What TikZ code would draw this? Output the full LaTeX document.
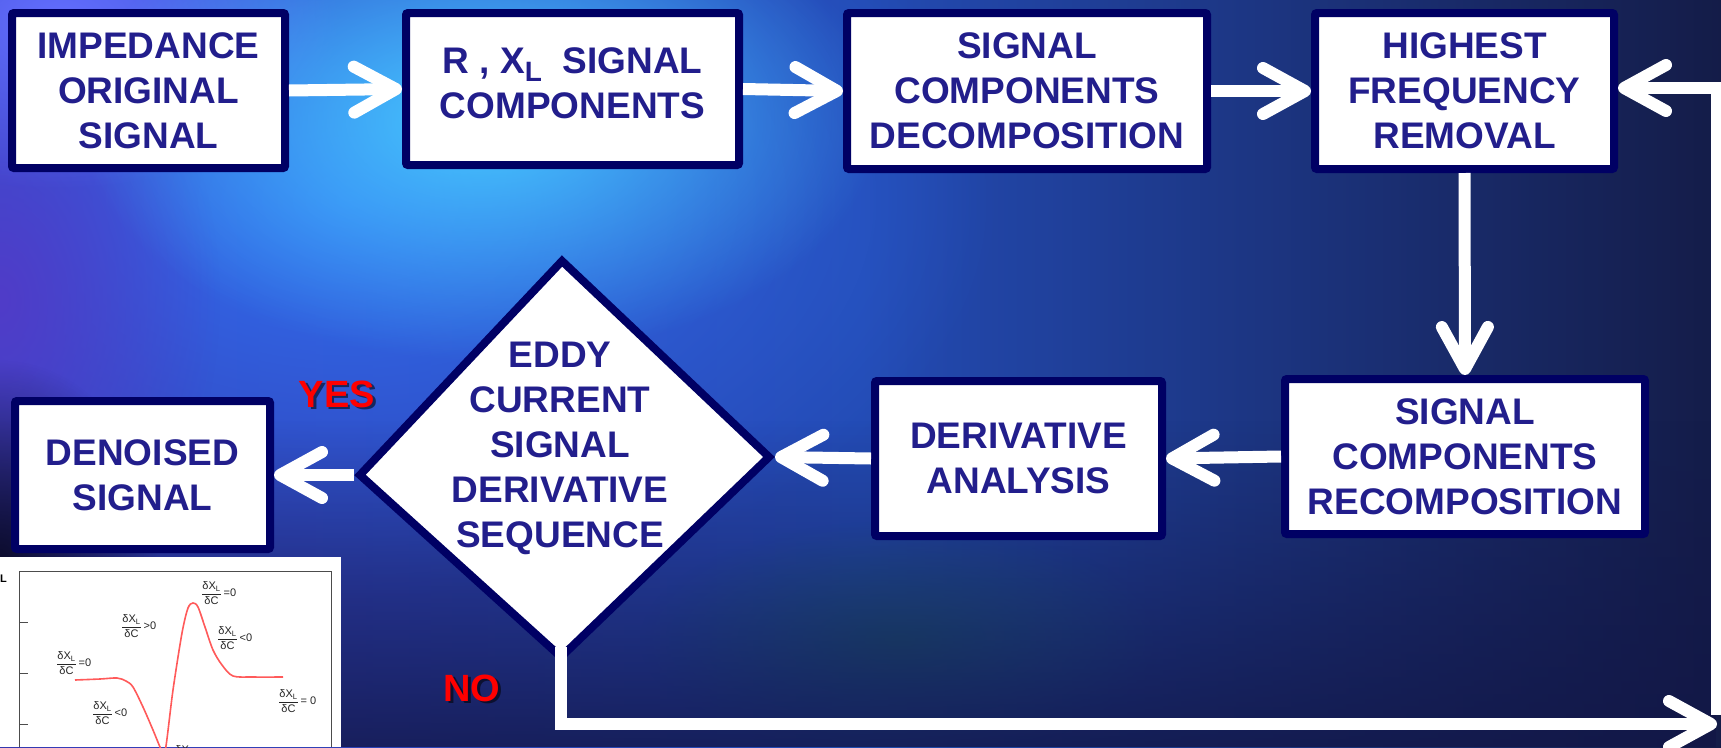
\documentclass[tikz,border=0pt]{standalone}
\usepackage{fontspec}
\setmainfont{Liberation Sans}
\usetikzlibrary{arrows.meta,fadings,calc}
\definecolor{txtc}{RGB}{34,30,140}
\definecolor{bordc}{RGB}{0,0,100}
\definecolor{bgL}{RGB}{55,60,185}
\definecolor{bgM}{RGB}{35,75,180}
\definecolor{bgR}{RGB}{20,28,72}
\definecolor{glowcyan}{RGB}{70,200,255}
\definecolor{glowblue}{RGB}{50,110,240}
\definecolor{glowviolet}{RGB}{80,60,200}
\definecolor{glowtl}{RGB}{100,110,255}
\definecolor{glowteal}{RGB}{30,90,130}
\definecolor{bgdark}{RGB}{18,22,70}
\definecolor{bgblack}{RGB}{12,12,45}
\definecolor{curvec}{RGB}{255,90,90}
\definecolor{yesred}{RGB}{255,0,0}
\tikzfading[name=fadebottom, top color=transparent!100, bottom color=transparent!20]
\tikzfading[name=glowfade, inner color=transparent!0, outer color=transparent!100]
\newcommand\dxl{$\displaystyle\frac{\hbox{δX\textsubscript{L}}}{\hbox{δC}}$}
\tikzset{
  box/.style={draw=bordc, fill=white, line width=8pt, rounded corners=2pt,
    inner sep=0pt, align=center, text=txtc,
    font=\fontsize{37}{45}\selectfont\bfseries},
  boxtxt/.style={inner sep=0pt, align=center, text=txtc,
    font=\fontsize{37}{45}\selectfont\bfseries},
  diam/.style={draw=bordc, fill=white, line width=8pt, line join=miter},
  flow/.style={draw=white, line width=12pt,
    -{Straight Barb[length=42pt, width=46pt, round]}},
  lbl/.style={inner sep=0pt, text=yesred, font=\fontsize{38}{40}\selectfont\bfseries},
  lblshadow/.style={inner sep=0pt, text=black, opacity=0.55, font=\fontsize{38}{40}\selectfont\bfseries},
  inl/.style={inner sep=0pt, anchor=west, text=black!85, font=\fontsize{11}{12}\selectfont},
}
\begin{document}
\begin{tikzpicture}[x=1pt,y=-1pt]
\useasboundingbox (0,0) rectangle (1721,747);
% background
\begin{scope}
\clip (0,0) rectangle (1721,747);
\shade[left color=bgL, right color=bgR, middle color=bgM] (0,0) rectangle (1721,747);
\fill[glowblue, path fading=glowfade] (350,200) ellipse (650 and 400);
\fill[glowviolet, path fading=glowfade] (0,300) ellipse (220 and 320);
\fill[glowtl, path fading=glowfade] (60,20) ellipse (280 and 170);
\fill[glowcyan, path fading=glowfade] (480,120) ellipse (400 and 240);
\fill[glowteal, path fading=glowfade] (900,640) ellipse (260 and 120);
\fill[bgdark, path fading=fadebottom] (0,420) rectangle (1721,747);
\fill[bgblack, path fading=glowfade] (0,560) ellipse (160 and 200);
\end{scope}
% inset plot
\fill[white] (0,557) rectangle (341,747);
\draw[black!70, line width=1pt] (19,747) -- (19,571) -- (331,571) -- (331,747);
\foreach \ty in {622,673,724} \draw[black!70, line width=1pt] (19,\ty) -- (28,\ty);
\node[inner sep=0pt, anchor=west, font=\fontsize{11}{11}\selectfont\bfseries] (ylab) at (0,579) {L};
\begin{scope}
\clip (0,557) rectangle (341,747);
\draw[curvec, line width=1.6pt] plot[smooth, tension=0.5] coordinates {
 (75,680) (100,679) (117,678) (126,681) (133,687) (143,707) (153,730) (160,747) (163,752)
 (166,746) (173,690) (182,633) (188,608) (193,603) (198,607) (205,627) (213,650) (222,665)
 (233,676) (253,677) (283,677)};
\end{scope}
\node[inl] (l1) at (201,593) {\dxl\,=0};
\node[inl] (l2) at (121,626) {\dxl\,>0};
\node[inl] (l3) at (217,638) {\dxl\,<0};
\node[inl] (l4) at (56,663) {\dxl\,=0};
\node[inl] (l5) at (92,713) {\dxl\,<0};
\node[inl] (l6) at (278,701) {\dxl\,= 0};
\node[inl] (l7) at (174,757) {\dxl\,=0};
% boxes
\node[box, minimum width=273pt, minimum height=155pt] (b1) at (148.5,90.5) {IMPEDANCE\\ORIGINAL\\SIGNAL};
\node[box, minimum width=333pt, minimum height=152pt] (b2) at (572.5,89) {};
\node[boxtxt, yshift=6pt] (b2t) at (b2) {R , X\raisebox{-8pt}{\fontsize{28}{28}\selectfont L}~ SIGNAL\\COMPONENTS};
\node[box, minimum width=360pt, minimum height=156pt] (b3) at (1027,91) {SIGNAL\\COMPONENTS\\DECOMPOSITION};
\node[box, minimum width=299pt, minimum height=156pt] (b4) at (1464.5,91) {HIGHEST\\FREQUENCY\\REMOVAL};
\node[box, minimum width=360pt, minimum height=155pt] (b5) at (1465,456.5) {SIGNAL\\COMPONENTS\\RECOMPOSITION};
\node[box, minimum width=287pt, minimum height=155pt] (b6) at (1018.5,458.5) {DERIVATIVE\\ANALYSIS};
\node[box, minimum width=255pt, minimum height=148pt] (b7) at (142.5,475) {DENOISED\\SIGNAL};
% decision diamond
\coordinate (dT) at (562,261);
\coordinate (dR) at (769,457);
\coordinate (dB) at (561,657);
\coordinate (dL) at (360,475);
\coordinate (dRo) at (775,457);
\coordinate (dLo) at (354,475);
\draw[diam] (dT) -- (dR) -- (dB) -- (dL) -- cycle;
\node[boxtxt] (dtx) at (560,448) {EDDY\\CURRENT\\SIGNAL\\DERIVATIVE\\SEQUENCE};
% connectors
\draw[flow] (b1.east) -- (b2.west);
\draw[flow] (b2.east) -- (b3.west);
\draw[flow] (b3.east) -- (b4.west);
\draw[flow] (b4.south) -- (b5.north);
\draw[flow] (b5.west) -- (b6.east);
\draw[flow] (b6.west) -- (dRo);
\draw[flow] (dLo) -- (b7.east);
\coordinate (fbB) at (1717,724);
\coordinate (fbV) at (1717,715);
\coordinate (fbT) at (1717,88);
\draw[flow, line join=miter] ([yshift=10pt]dB) |- (fbB);
\draw[flow, line join=miter] (fbV) -- (fbT) -- (fbT -| b4.east);
% labels
\node[lblshadow] (yesS) at (339.5,396.5) {YES};
\node[lbl] (yes) at (337,394) {YES};
\node[lblshadow] (noS) at (474.5,690.5) {NO};
\node[lbl] (no) at (472,688) {NO};
\end{tikzpicture}
\end{document}
